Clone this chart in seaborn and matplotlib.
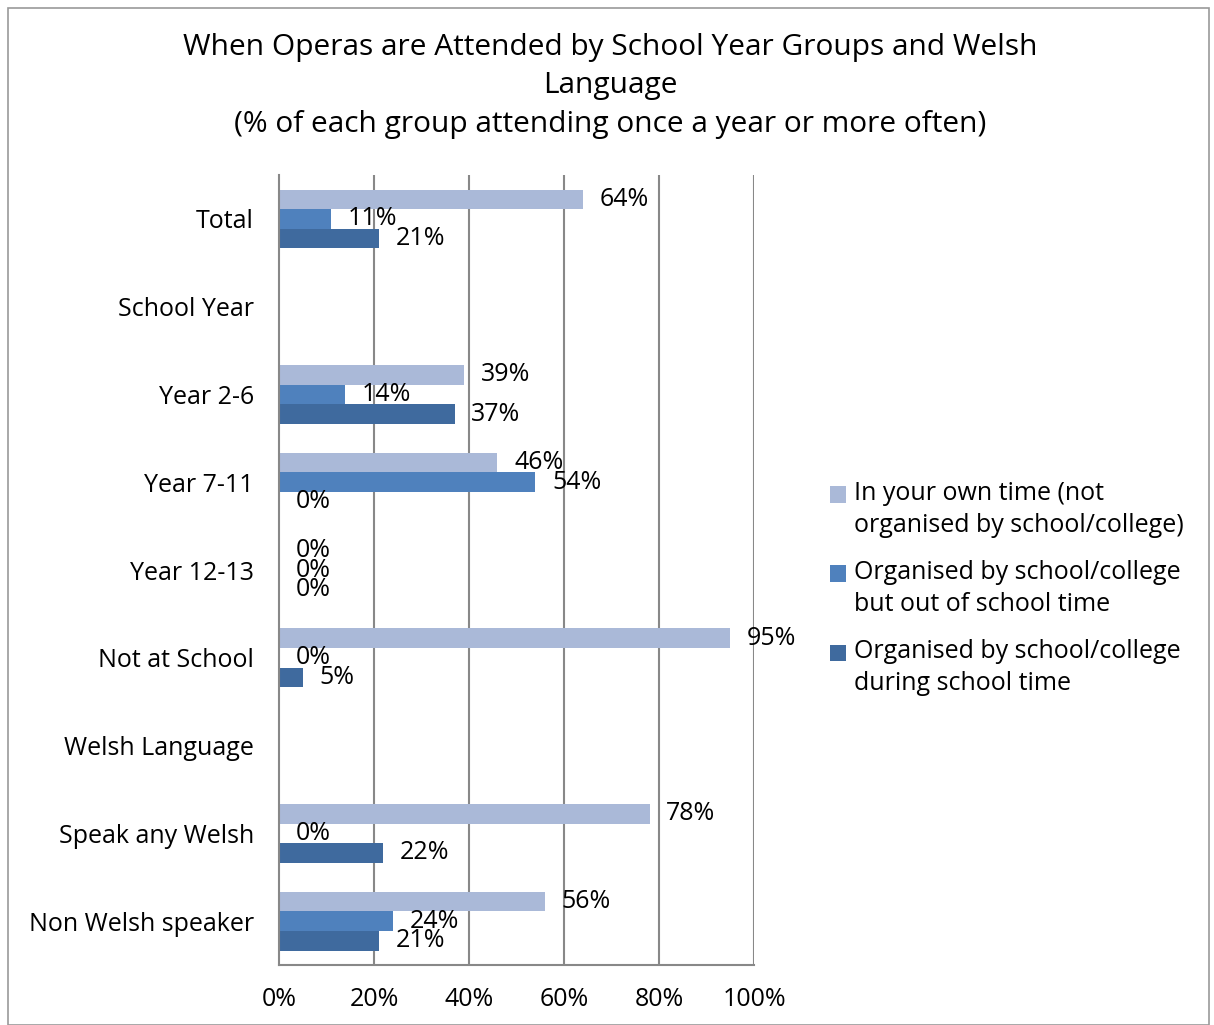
import numpy as np
import pandas as pd
import matplotlib
matplotlib.use("Agg")
import matplotlib.pyplot as plt
from matplotlib.patches import Rectangle, Patch
from matplotlib.legend_handler import HandlerPatch
from matplotlib.ticker import FixedLocator
import seaborn as sns

# Categories as shown top to bottom (section headers carry no bars)
categories = ["Total", "School Year", "Year 2-6", "Year 7-11", "Year 12-13",
              "Not at School", "Welsh Language", "Speak any Welsh", "Non Welsh speaker"]
series = ["In your own time (not\norganised by school/college)",
          "Organised by school/college\nbut out of school time",
          "Organised by school/college\nduring school time"]
groups_with_data = ["Total", "Year 2-6", "Year 7-11", "Year 12-13",
                    "Not at School", "Speak any Welsh", "Non Welsh speaker"]
own_time = [64, 39, 46, 0, 95, 78, 56]
school_out_of_hours = [11, 14, 54, 0, 0, 0, 24]
school_in_hours = [21, 37, 0, 0, 5, 22, 21]
x_ticks = [0, 20, 40, 60, 80, 100]
x_tick_labels = ["0%", "20%", "40%", "60%", "80%", "100%"]

colors = ["#AAB9D8", "#4F81BD", "#3F6A9E"]

rows = []
for vals, name in zip([own_time, school_out_of_hours, school_in_hours], series):
    for g, v in zip(groups_with_data, vals):
        rows.append({"group": g, "series": name, "value": v})
df = pd.DataFrame(rows)

sns.set_style("white")
plt.rcParams["font.family"] = ["Open Sans", "DejaVu Sans"]
plt.rcParams["text.color"] = "black"
plt.rcParams["xtick.labelcolor"] = "black"
plt.rcParams["ytick.labelcolor"] = "black"

FS = 18


class FirstLineSquare(HandlerPatch):
    """Legend square aligned with the first line of a two-line label."""
    def create_artists(self, legend, orig_handle, xdescent, ydescent,
                       width, height, fontsize, trans):
        p = Rectangle((-xdescent, -ydescent + 11), width, height,
                      facecolor=orig_handle.get_facecolor(), edgecolor="none",
                      transform=trans)
        return [p]


fig = plt.figure(figsize=(12.14, 10.25), dpi=100)
ax = fig.add_axes([0.2298, 0.0585, 0.3913, 0.7707])

sns.barplot(data=df, y="group", x="value", hue="series", order=categories,
            hue_order=series, palette=colors, orient="h", width=0.67,
            saturation=1, legend=False, ax=ax, errorbar=None, linewidth=0)

for cont in ax.containers:
    ax.bar_label(cont, fmt="{:.0f}%", padding=12, fontsize=FS, color="black")

ax.set_xlim(0, 100)
ax.set_ylim(len(categories) - 0.5, -0.5)
ax.set_xlabel("")
ax.set_ylabel("")

ax.xaxis.set_major_locator(FixedLocator(x_ticks))
ax.set_xticklabels(x_tick_labels, fontsize=FS)
ax.tick_params(axis="x", length=7, width=1.5, color="#888888", pad=9)

ax.set_yticks(range(len(categories)))
ax.set_yticklabels(categories, fontsize=FS)
ax.yaxis.set_minor_locator(FixedLocator(np.arange(-0.5, len(categories), 1.0)))
ax.tick_params(axis="y", which="major", length=0, pad=18)
ax.tick_params(axis="y", which="minor", length=6, width=1.5, color="#888888")

for x in x_ticks[1:]:
    ax.axvline(x, color="#888888", lw=1.5, zorder=0)

for side in ["top", "right"]:
    ax.spines[side].set_visible(False)
for side in ["left", "bottom"]:
    ax.spines[side].set_color("#888888")
    ax.spines[side].set_linewidth(1.5)

fig.text(0.503, 0.954, "When Operas are Attended by School Year Groups and Welsh",
         ha="center", va="center", fontsize=21.5)
fig.text(0.503, 0.917, "Language", ha="center", va="center", fontsize=21.5)
fig.text(0.503, 0.879, "(% of each group attending once a year or more often)",
         ha="center", va="center", fontsize=21.5)

handles = [Patch(facecolor=c, edgecolor="none") for c in colors]
leg = fig.legend(handles, series, loc="center left", bbox_to_anchor=(0.665, 0.426),
                 frameon=False, fontsize=FS, handlelength=0.65, handleheight=0.65,
                 handletextpad=0.3, labelspacing=0.9,
                 handler_map={Patch: FirstLineSquare()})
for t in leg.get_texts():
    t.set_linespacing(1.35)

fig.patches.append(Rectangle((0.007, 0.0), 0.989, 0.992, transform=fig.transFigure,
                             fill=False, edgecolor="#999999", lw=1.2))

fig.savefig("out.png", dpi=100)
